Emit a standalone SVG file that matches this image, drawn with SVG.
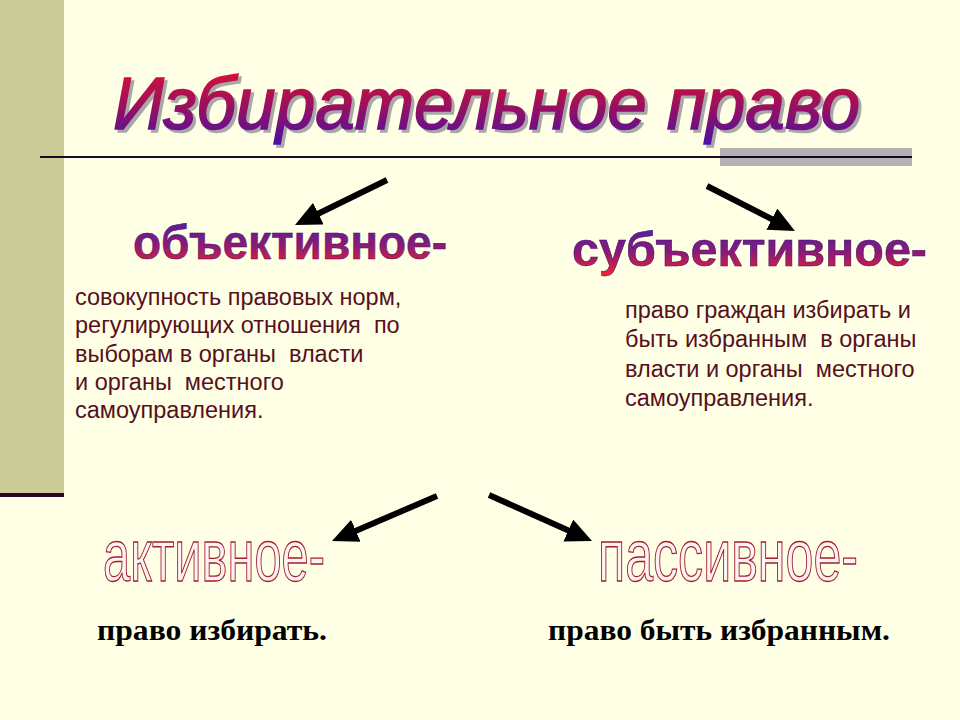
<svg xmlns="http://www.w3.org/2000/svg" width="960" height="720" viewBox="0 0 960 720">
  <defs>
    <linearGradient id="gTitle" x1="0" y1="0" x2="0" y2="1">
      <stop offset="0" stop-color="#E8102E"/>
      <stop offset="0.5" stop-color="#A0105A"/>
      <stop offset="1" stop-color="#4A10A8"/>
    </linearGradient>
    <linearGradient id="gHead" x1="0" y1="0" x2="0" y2="1">
      <stop offset="0" stop-color="#4A1EA8"/>
      <stop offset="0.55" stop-color="#8A1A78"/>
      <stop offset="1" stop-color="#F82028"/>
    </linearGradient>
    <marker id="ah" markerUnits="userSpaceOnUse" markerWidth="28" markerHeight="26" refX="10" refY="12" orient="auto">
      <path d="M0,0 L26,12 L0,24 z" fill="#000"/>
    </marker>
    <style>
      .body { font-family: "Liberation Sans", Arial, sans-serif; font-size: 23.5px; fill: #561020; }
      .def { font-family: "Liberation Serif", "Times New Roman", serif; font-size: 30px; font-weight: bold; fill: #000; }
      .head { font-family: "Liberation Sans", Arial, sans-serif; font-size: 48px; font-weight: bold; fill: url(#gHead); stroke: #3A1060; stroke-width: 0.5; }
      .outl { font-family: "Liberation Sans", Arial, sans-serif; font-size: 74px; fill: #FFF2F2; stroke: #A02030; stroke-width: 1.3; }
      .arrow { stroke: #000; stroke-width: 6; fill: none; marker-end: url(#ah); }
    </style>
  </defs>

  <rect x="0" y="0" width="960" height="720" fill="#FFFFE6"/>
  <rect x="0" y="0" width="64" height="493" fill="#CCCC99"/>
  <rect x="0" y="493" width="64" height="4" fill="#2A0A22"/>
  <rect x="720" y="148" width="192" height="18" fill="#B2B2B2"/>
  <line x1="40" y1="157" x2="912" y2="157" stroke="#1A0A22" stroke-width="2"/>

  <g id="title">
    <text x="116" y="132" font-family="Liberation Sans, Arial, sans-serif" font-size="75" font-style="italic" fill="#A8A8A8" stroke="#A8A8A8" stroke-width="1.6" textLength="747" lengthAdjust="spacingAndGlyphs">Избирательное право</text>
    <text x="113" y="129" font-family="Liberation Sans, Arial, sans-serif" font-size="75" font-style="italic" fill="url(#gTitle)" stroke="url(#gTitle)" stroke-width="1.6" textLength="747" lengthAdjust="spacingAndGlyphs">Избирательное право</text>
  </g>

  <g id="connectors">
    <line class="arrow" x1="387" y1="180" x2="309.4" y2="218"/>
    <line class="arrow" x1="707" y1="186" x2="780.7" y2="223.7"/>
    <line class="arrow" x1="437" y1="496" x2="346.7" y2="534.7"/>
    <line class="arrow" x1="489" y1="495" x2="577.4" y2="534.5"/>
  </g>

  <g id="objective">
    <text class="head" x="133" y="259" textLength="314" lengthAdjust="spacingAndGlyphs">объективное-</text>
    <text class="body" x="75" y="305">совокупность правовых норм,</text>
    <text class="body" x="75" y="333" xml:space="preserve">регулирующих отношения  по</text>
    <text class="body" x="75" y="362" xml:space="preserve">выборам в органы  власти</text>
    <text class="body" x="75" y="390" xml:space="preserve">и органы  местного</text>
    <text class="body" x="75" y="418">самоуправления.</text>
  </g>

  <g id="subjective">
    <text class="head" x="572" y="266" textLength="355" lengthAdjust="spacingAndGlyphs">субъективное-</text>
    <text class="body" x="625" y="318">право граждан избирать и</text>
    <text class="body" x="625" y="347" xml:space="preserve">быть избранным  в органы</text>
    <text class="body" x="625" y="377" xml:space="preserve">власти и органы  местного</text>
    <text class="body" x="625" y="406">самоуправления.</text>
  </g>

  <g id="active">
    <text class="outl" x="103" y="581" textLength="222" lengthAdjust="spacingAndGlyphs">активное-</text>
    <text class="def" x="97" y="640" textLength="230" lengthAdjust="spacingAndGlyphs">право избирать.</text>
  </g>

  <g id="passive">
    <text class="outl" x="598" y="581" textLength="260" lengthAdjust="spacingAndGlyphs">пассивное-</text>
    <text class="def" x="548" y="640" textLength="342" lengthAdjust="spacingAndGlyphs">право быть избранным.</text>
  </g>
</svg>
